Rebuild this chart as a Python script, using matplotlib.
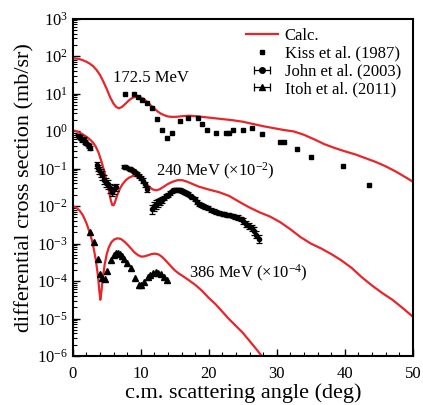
import numpy as np
import matplotlib
matplotlib.use("Agg")
import matplotlib.pyplot as plt
from matplotlib.ticker import LogLocator, MultipleLocator, LogFormatterMathtext, NullFormatter

plt.rcParams["font.family"] = ["Liberation Serif", "DejaVu Serif"]
plt.rcParams["mathtext.fontset"] = "stix"
plt.rcParams["mathtext.default"] = "regular"

# calculated curves (angle in deg, log10 of plotted cross section)
calc172_deg = [0, 0.5, 1, 1.5, 2, 2.5, 3, 3.5, 4, 4.5, 5, 5.5, 6, 6.4, 6.8, 7.2, 7.7, 8.2, 8.7,
               9.2, 9.6, 10.0, 10.5, 11.0, 11.5, 12.0, 12.5, 13.0, 13.5, 14.0, 14.5, 15.2, 16.2,
               17.2, 18.5, 20, 22, 23.5, 25, 26.5, 28, 29.5, 31, 32.5, 34, 35.5, 37, 38.5, 40,
               41.5, 43, 44.5, 46, 47.5, 49, 50]
calc172_log = [1.94, 1.935, 1.92, 1.89, 1.85, 1.80, 1.73, 1.63, 1.50, 1.32, 1.12, 0.90, 0.73,
               0.64, 0.61, 0.64, 0.72, 0.81, 0.88, 0.915, 0.92, 0.90, 0.85, 0.77, 0.68, 0.60,
               0.52, 0.46, 0.42, 0.39, 0.38, 0.38, 0.40, 0.41, 0.39, 0.36, 0.32, 0.29, 0.25,
               0.19, 0.13, 0.08, 0.03, -0.01, -0.10, -0.22, -0.35, -0.45, -0.54, -0.62, -0.72,
               -0.82, -0.94, -1.08, -1.24, -1.35]

calc240_deg = [0, 0.5, 1, 1.5, 2, 2.5, 3, 3.4, 3.8, 4.2, 4.6, 5.0, 5.3, 5.6, 5.8, 6.0, 6.2, 6.5,
               6.9, 7.3, 7.8, 8.3, 8.8, 9.3, 9.8, 10.3, 10.8, 11.3, 11.8, 12.3, 12.8, 13.4, 14.0,
               14.7, 15.4, 16.1, 16.8, 17.6, 18.5, 20, 21.5, 23, 24.5, 26, 27.5, 29, 30.5, 32,
               33.5, 35, 36.5, 38, 39.5, 41, 42.5, 44, 45.5, 47, 48.5, 50]
calc240_log = [0.02, 0.00, -0.04, -0.09, -0.15, -0.22, -0.31, -0.42, -0.58, -0.80, -1.05, -1.33,
               -1.58, -1.85, -1.97, -1.98, -1.90, -1.73, -1.55, -1.42, -1.31, -1.24, -1.20,
               -1.20, -1.24, -1.31, -1.41, -1.50, -1.56, -1.58, -1.55, -1.48, -1.41, -1.35,
               -1.31, -1.31, -1.35, -1.41, -1.48, -1.56, -1.63, -1.73, -1.89, -2.04, -2.17,
               -2.28, -2.43, -2.62, -2.83, -3.00, -3.13, -3.28, -3.45, -3.65, -3.90, -4.12,
               -4.32, -4.50, -4.72, -4.95]

calc386_deg = [0, 0.5, 1.0, 1.5, 2.0, 2.4, 2.8, 3.1, 3.4, 3.7, 3.9, 4.05, 4.2, 4.4, 4.7, 5.0,
               5.3, 5.7, 6.1, 6.6, 7.1, 7.6, 8.1, 8.6, 9.1, 9.6, 10.1, 10.6, 11.1, 11.6, 12.1,
               12.6, 13.1, 13.6, 14.1, 14.6, 15.1, 15.6, 16.2, 17.0, 18.0, 19.0, 20.0, 21.0,
               22.0, 23.0, 24.0, 25.0, 26.0, 27.0, 28.0]
calc386_log = [-2.00, -2.04, -2.12, -2.25, -2.45, -2.66, -2.90, -3.15, -3.45, -3.85, -4.25,
               -4.50, -4.30, -3.95, -3.55, -3.28, -3.10, -2.96, -2.89, -2.86, -2.88, -2.95,
               -3.04, -3.14, -3.24, -3.31, -3.35, -3.34, -3.31, -3.28, -3.27, -3.29, -3.35,
               -3.44, -3.54, -3.64, -3.73, -3.80, -3.87, -3.97, -4.10, -4.26, -4.45, -4.62,
               -4.82, -5.02, -5.20, -5.38, -5.60, -5.82, -6.05]

# Kiss et al. (1987), 172.5 MeV
kiss_deg = [7.7, 9.0, 9.6, 10.2, 10.9, 11.7, 12.4, 13.1, 13.8, 14.6, 15.7, 17.0, 18.4, 19.0, 19.7,
            21.1, 22.5, 23.0, 23.6, 25.1, 26.4, 27.8, 30.4, 31.0, 33.0, 35.0, 39.7, 43.5]
kiss_log = [1.00, 0.98, 0.90, 0.82, 0.74, 0.62, 0.32, 0.04, -0.18, -0.04, 0.28, 0.34, 0.34, 0.18,
            0.04, -0.06, -0.06, -0.06, 0.02, 0.03, 0.07, -0.08, -0.30, -0.30, -0.49, -0.70,
            -0.93, -1.44]

# John et al. (2003), 240 MeV (x1e-2)
john_deg = [0.8, 1.0, 1.2, 1.4, 1.6, 1.8, 2.0, 2.2, 2.4, 2.6, 3.5, 3.7, 3.9, 4.1, 4.3, 4.6, 4.9,
            5.2, 5.5, 5.7, 6.0, 6.3, 7.6, 7.9, 8.2, 8.5, 8.8, 9.1, 9.4, 9.7, 10.0, 10.3, 10.6,
            10.9, 11.6, 11.9, 12.2, 12.5, 12.8, 13.1, 13.4, 13.7, 14.0, 14.3, 14.6, 14.9, 15.2,
            15.5, 15.8, 16.1, 16.4, 16.7, 17.0, 17.3, 17.6, 17.9, 18.2, 18.5, 18.8, 19.1, 19.5,
            19.9, 20.3, 20.7, 21.1, 21.5, 21.9, 22.3, 22.7, 23.1, 23.5, 23.9, 24.3, 24.7, 25.1,
            25.5, 25.9, 26.3, 26.7, 27.0, 27.4]
john_log = [-0.12, -0.15, -0.20, -0.25, -0.22, -0.30, -0.33, -0.36, -0.40, -0.46, -0.90, -0.98,
            -1.05, -1.12, -1.18, -1.30, -1.38, -1.42, -1.52, -1.62, -1.55, -1.50, -0.95, -0.97,
            -1.00, -1.02, -1.06, -1.10, -1.14, -1.20, -1.26, -1.32, -1.42, -1.55, -2.08, -2.00,
            -1.95, -1.92, -1.88, -1.83, -1.78, -1.73, -1.70, -1.66, -1.61, -1.58, -1.56, -1.56,
            -1.58, -1.60, -1.62, -1.65, -1.68, -1.72, -1.77, -1.82, -1.90, -1.95, -1.98, -2.00,
            -2.03, -2.06, -2.10, -2.13, -2.15, -2.18, -2.20, -2.22, -2.23, -2.25, -2.27, -2.29,
            -2.31, -2.34, -2.40, -2.47, -2.53, -2.58, -2.66, -2.76, -2.88]
john_err = [0.05, 0.05, 0.05, 0.05, 0.05, 0.05, 0.05, 0.05, 0.05, 0.05, 0.08, 0.08, 0.10, 0.10,
            0.12, 0.12, 0.12, 0.12, 0.12, 0.12, 0.12, 0.10, 0.04, 0.04, 0.04, 0.04, 0.04, 0.04,
            0.05, 0.05, 0.05, 0.06, 0.06, 0.08, 0.12, 0.12, 0.12, 0.10, 0.10, 0.08, 0.06, 0.05,
            0.05, 0.05, 0.05, 0.05, 0.05, 0.05, 0.05, 0.05, 0.05, 0.05, 0.05, 0.05, 0.05, 0.05,
            0.05, 0.05, 0.05, 0.05, 0.05, 0.05, 0.05, 0.05, 0.05, 0.05, 0.05, 0.05, 0.05, 0.05,
            0.05, 0.05, 0.06, 0.06, 0.08, 0.08, 0.08, 0.08, 0.10, 0.10, 0.10]

# Itoh et al. (2011), 386 MeV (x1e-4)
itoh_deg = [2.5, 3.1, 3.7, 4.0, 4.3, 4.7, 5.1, 5.6, 6.0, 6.3, 6.6, 6.9, 7.2, 7.6, 8.0, 8.6, 9.2,
            9.7, 10.0, 10.5, 11.0, 11.4, 11.8, 12.2, 12.6, 13.0, 13.4, 13.9]
itoh_log = [-2.69, -2.97, -3.40, -3.80, -3.93, -3.95, -3.73, -3.43, -3.30, -3.26, -3.25, -3.28,
            -3.32, -3.42, -3.52, -3.66, -3.93, -4.10, -4.10, -4.02, -3.90, -3.83, -3.79, -3.77,
            -3.78, -3.82, -3.88, -3.98]

red = "#e8262a"

fig = plt.figure(figsize=(4.23, 4.05), dpi=100)
ax = fig.add_axes([0.172, 0.121, 0.804, 0.833])

ax.plot(calc172_deg, 10 ** np.array(calc172_log), color=red, lw=1.6, label="Calc.")
ax.plot(calc240_deg, 10 ** np.array(calc240_log), color=red, lw=1.6)
ax.plot(calc386_deg, 10 ** np.array(calc386_log), color=red, lw=1.6)

ax.plot(kiss_deg, 10 ** np.array(kiss_log), "s", color="black", ms=3.5, ls="none",
        label="Kiss et al. (1987)")

john_y = 10 ** np.array(john_log)
john_lo = john_y - 10 ** (np.array(john_log) - np.array(john_err))
john_hi = 10 ** (np.array(john_log) + np.array(john_err)) - john_y
ax.errorbar(john_deg, john_y, yerr=[john_lo, john_hi], fmt="o", color="black", ms=3,
            elinewidth=0.9, capsize=2, capthick=0.9)
ax.plot(itoh_deg, 10 ** np.array(itoh_log), "^", color="black", ms=4.5, ls="none")

# legend entries drawn with horizontal bars like the original
ax.errorbar([np.nan], [np.nan], xerr=[1], fmt="o", color="black", ms=4,
            elinewidth=0.9, capsize=3, capthick=0.9, label="John et al. (2003)")
ax.errorbar([np.nan], [np.nan], xerr=[1], fmt="^", color="black", ms=4.5,
            elinewidth=0.9, capsize=3, capthick=0.9, label="Itoh et al. (2011)")

ax.text(5.9, 10 ** 1.41, "172.5 MeV", fontsize=12, va="center")
ax.text(12.3, 10 ** -1.07, "240 MeV (×10$^{-2}$)", fontsize=12, va="center")
ax.text(17.1, 10 ** -3.81, "386 MeV (×10$^{-4}$)", fontsize=12, va="center")

ax.set_yscale("log")
ax.set_xlim(0, 50)
ax.set_ylim(1e-6, 1e3)
ax.xaxis.set_major_locator(MultipleLocator(10))
ax.xaxis.set_minor_locator(MultipleLocator(2))
ax.yaxis.set_major_locator(LogLocator(base=10, numticks=20))
ax.yaxis.set_minor_locator(LogLocator(base=10, subs=np.arange(2, 10), numticks=20))
ax.yaxis.set_major_formatter(LogFormatterMathtext())
ax.yaxis.set_minor_formatter(NullFormatter())
ax.tick_params(which="both", direction="in", labelsize=12)
ax.tick_params(which="major", length=5, width=1)
ax.tick_params(which="minor", length=3, width=0.8)
ax.tick_params(axis="x", which="major", pad=7)
for s in ax.spines.values():
    s.set_linewidth(1.5)

ax.set_xlabel("c.m. scattering angle (deg)", fontsize=16, labelpad=1)
ax.set_ylabel("differential cross section (mb/sr)", fontsize=16, labelpad=2)

ax.legend(loc="upper left", bbox_to_anchor=(0.51, 0.972), frameon=False, fontsize=12,
          borderpad=0, borderaxespad=0, handlelength=1.9, handletextpad=0.4,
          labelspacing=0.1)

plt.savefig("out.png", dpi=100)
